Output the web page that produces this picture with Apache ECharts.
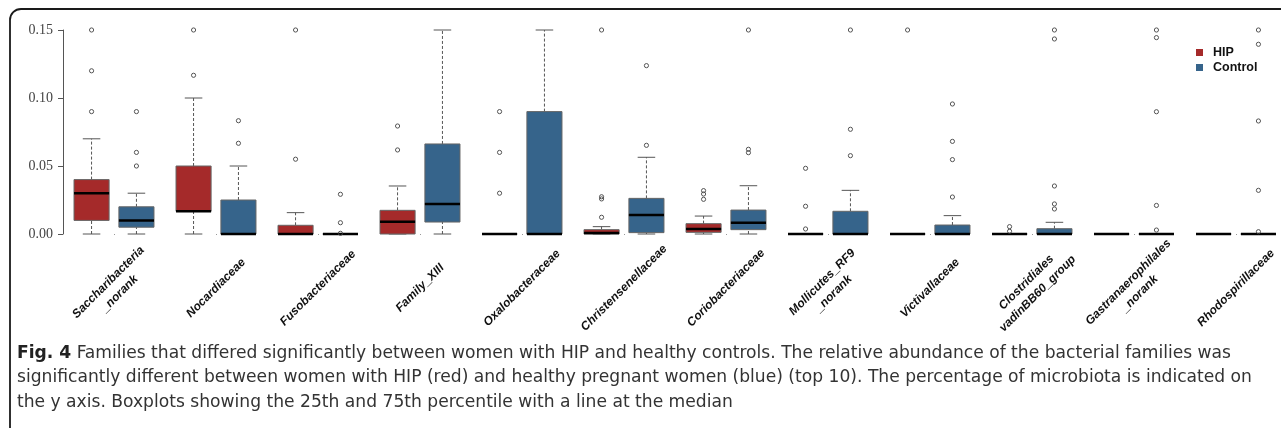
<!DOCTYPE html>
<html>
<head>
<meta charset="utf-8">
<script src="https://cdn.jsdelivr.net/npm/echarts@6/dist/echarts.min.js"></script>
<style>
  html, body { margin: 0; padding: 0; background: #fff; }
  #chart { width: 1281px; height: 428px; }
</style>
</head>
<body>
<div id="chart"></div>
<script>
// families on the x axis (line breaks as in the figure)
const categories = [
  "Saccharibacteria\n_norank", "Nocardiaceae", "Fusobacteriaceae", "Family_XIII",
  "Oxalobacteraceae", "Christensenellaceae", "Coriobacteriaceae", "Mollicutes_RF9\n_norank",
  "Victivallaceae", "Clostridiales\nvadinBB60_group", "Gastranaerophilales\n_norank", "Rhodospirillaceae"
];
const yTicks = [0, 0.05, 0.1, 0.15];

// [min, Q1, median, Q3, max] per family
const hipStats = [
  [0, 0.010, 0.030, 0.040, 0.070],
  [0, 0.0167, 0.0167, 0.050, 0.100],
  [0, 0, 0, 0.0064, 0.0157],
  [0, 0, 0.009, 0.0174, 0.0353],
  [0, 0, 0, 0, 0],
  [0, 0, 0.0008, 0.0032, 0.0054],
  [0, 0.0012, 0.0037, 0.0076, 0.0132],
  [0, 0, 0, 0, 0],
  [0, 0, 0, 0, 0],
  [0, 0, 0, 0, 0],
  [0, 0, 0, 0, 0],
  [0, 0, 0, 0, 0]
];
const controlStats = [
  [0, 0.005, 0.010, 0.020, 0.030],
  [0, 0, 0, 0.025, 0.050],
  [0, 0, 0, 0, 0],
  [0, 0.0088, 0.022, 0.0662, 0.15],
  [0, 0, 0, 0.090, 0.15],
  [0, 0.001, 0.014, 0.0262, 0.0564],
  [0, 0.0032, 0.0083, 0.0176, 0.0355],
  [0, 0, 0, 0.0167, 0.0321],
  [0, 0, 0, 0.0066, 0.0135],
  [0, 0, 0, 0.0039, 0.0086],
  [0, 0, 0, 0, 0],
  [0, 0, 0, 0, 0]
];

// [family index, value]
const hipOutliers = [
  [0, 0.15], [0, 0.12], [0, 0.09],
  [1, 0.15], [1, 0.1167],
  [2, 0.15], [2, 0.055],
  [3, 0.0794], [3, 0.0618],
  [4, 0.09], [4, 0.06], [4, 0.03],
  [5, 0.15], [5, 0.0274], [5, 0.0258], [5, 0.0123],
  [6, 0.0319], [6, 0.0294], [6, 0.0255],
  [7, 0.0483], [7, 0.0204], [7, 0.0037],
  [8, 0.15],
  [9, 0.0054], [9, 0.002]
];
const controlOutliers = [
  [0, 0.09], [0, 0.06], [0, 0.05],
  [1, 0.0833], [1, 0.0667],
  [2, 0.0292], [2, 0.0083], [2, 0.0005],
  [5, 0.1238], [5, 0.0652],
  [6, 0.15], [6, 0.0623], [6, 0.0598],
  [7, 0.15], [7, 0.077], [7, 0.0576],
  [8, 0.0956], [8, 0.0681], [8, 0.0547], [8, 0.0272],
  [9, 0.15], [9, 0.1434], [9, 0.0353], [9, 0.0221], [9, 0.0184],
  [10, 0.15], [10, 0.1444], [10, 0.0899], [10, 0.021], [10, 0.0029],
  [11, 0.15], [11, 0.1395], [11, 0.0831], [11, 0.0321], [11, 0.0017]
];

const captionLines = [
  ["Fig. 4", " Families that differed significantly between women with HIP and healthy controls. The relative abundance of the bacterial families was"],
  ["", "significantly different between women with HIP (red) and healthy pregnant women (blue) (top 10). The percentage of microbiota is indicated on"],
  ["", "the y axis. Boxplots showing the 25th and 75th percentile with a line at the median"]
];

const HIP_COLOR = "#a52a2a";
const CONTROL_COLOR = "#36648b";
const BOX_SHIFT = 0.22;   // fraction of band
const BOX_HALF = 0.172;

function boxRenderer(sign, color) {
  return function (params, api) {
    var cat = api.value(0);
    var band = api.size([1, 0])[0];
    var xc = api.coord([cat, 0])[0] + sign * band * BOX_SHIFT;
    var half = band * BOX_HALF;
    var y = function (i) { return api.coord([cat, api.value(i)])[1]; };
    var yMin = y(1), yQ1 = y(2), yMed = y(3), yQ3 = y(4), yMax = y(5);
    var whisker = { stroke: "#555", lineWidth: 1, lineDash: [3, 2] };
    var cap = { stroke: "#555", lineWidth: 1 };
    return {
      type: "group",
      children: [
        { type: "line", shape: { x1: xc, y1: yQ3, x2: xc, y2: yMax }, style: whisker },
        { type: "line", shape: { x1: xc, y1: yMin, x2: xc, y2: yQ1 }, style: whisker },
        { type: "line", shape: { x1: xc - half / 2, y1: yMax, x2: xc + half / 2, y2: yMax }, style: cap },
        { type: "line", shape: { x1: xc - half / 2, y1: yMin, x2: xc + half / 2, y2: yMin }, style: cap },
        { type: "rect", shape: { x: xc - half, y: yQ3, width: half * 2, height: yQ1 - yQ3 },
          style: { fill: color, stroke: "#666", lineWidth: 1 } },
        { type: "line", shape: { x1: xc - half, y1: yMed, x2: xc + half, y2: yMed },
          style: { stroke: "#000", lineWidth: 2.5 } }
      ]
    };
  };
}

function outlierRenderer(sign) {
  return function (params, api) {
    var cat = api.value(0);
    var band = api.size([1, 0])[0];
    var p = api.coord([cat, api.value(1)]);
    return {
      type: "circle",
      shape: { cx: p[0] + sign * band * BOX_SHIFT, cy: p[1], r: 2.1 },
      style: { fill: "none", stroke: "#444", lineWidth: 0.9 }
    };
  };
}

function boxData(stats) {
  return stats.map(function (s, i) { return [i].concat(s); });
}

// caption: measure and squeeze to the width of the printed lines
var CAP_FONT = '"Liberation Sans Narrow", "DejaVu Sans Condensed", "Open Sans", sans-serif';
var CAP_SIZE = 18;
var ctx = document.createElement("canvas").getContext("2d");
function measure(str, weight) {
  ctx.font = weight + " " + CAP_SIZE + "px " + CAP_FONT;
  return ctx.measureText(str).width;
}
var line1Width = measure(captionLines[0][0], "bold") + measure(captionLines[0][1], "normal");
var capScale = (1231 - 17) / line1Width;
var captionGraphics = captionLines.map(function (ln, i) {
  return {
    type: "text",
    x: 17,
    y: 353 + i * 24.5,
    scaleX: capScale,
    style: {
      text: (ln[0] ? "{b|" + ln[0] + "}" : "") + "{n|" + ln[1] + "}",
      verticalAlign: "middle",
      rich: {
        b: { fontFamily: CAP_FONT, fontSize: CAP_SIZE, fontWeight: "bold", fill: "#222" },
        n: { fontFamily: CAP_FONT, fontSize: CAP_SIZE, fill: "#333" }
      }
    }
  };
});

var chart = echarts.init(document.getElementById("chart"));
chart.setOption({
  backgroundColor: "#fff",
  animation: false,
  grid: { left: 63, top: 30, width: 1224, height: 204, outerBoundsMode: "none" },
  legend: {
    data: ["HIP", "Control"],
    orient: "vertical",
    left: 1196,
    top: 46,
    padding: 0,
    icon: "rect",
    itemWidth: 7,
    itemHeight: 7,
    itemGap: 2,
    textStyle: { fontFamily: "Liberation Sans, Arial, sans-serif", fontWeight: "bold", fontSize: 12.5, color: "#111", padding: [0, 0, 0, 5] }
  },
  xAxis: {
    type: "category",
    data: categories,
    offset: 8,
    axisLine: { show: false },
    axisTick: { show: true, alignWithLabel: true, length: 1, lineStyle: { color: "#999" } },
    axisLabel: {
      interval: 0,
      rotate: 45,
      align: "center",
      verticalAlign: "middle",
      margin: 46,
      hideOverlap: false,
      fontFamily: "Liberation Sans, Arial, sans-serif",
      fontStyle: "italic",
      fontWeight: "bold",
      fontSize: 12,
      lineHeight: 16,
      color: "#111"
    },
    splitLine: { show: false }
  },
  yAxis: {
    type: "value",
    min: yTicks[0],
    max: yTicks[yTicks.length - 1],
    interval: 0.05,
    axisLine: { show: true, lineStyle: { color: "#555", width: 1 } },
    axisTick: { show: true, length: 5, lineStyle: { color: "#555" } },
    axisLabel: {
      margin: 10,
      fontFamily: "Liberation Serif, Times New Roman, serif",
      fontSize: 14,
      color: "#444",
      formatter: function (v) { return v.toFixed(2); }
    },
    splitLine: { show: false }
  },
  graphic: [
    { type: "rect", shape: { x: 10, y: 9, width: 1320, height: 480, r: 11 },
      style: { fill: "none", stroke: "#1a1a1a", lineWidth: 1.8 }, silent: true }
  ].concat(captionGraphics),
  series: [
    { name: "HIP", type: "custom", renderItem: boxRenderer(-1, HIP_COLOR),
      itemStyle: { color: HIP_COLOR }, encode: { x: 0, y: [1, 2, 3, 4, 5] }, data: boxData(hipStats) },
    { name: "Control", type: "custom", renderItem: boxRenderer(1, CONTROL_COLOR),
      itemStyle: { color: CONTROL_COLOR }, encode: { x: 0, y: [1, 2, 3, 4, 5] }, data: boxData(controlStats) },
    { name: "HIP outliers", type: "custom", renderItem: outlierRenderer(-1),
      encode: { x: 0, y: 1 }, data: hipOutliers },
    { name: "Control outliers", type: "custom", renderItem: outlierRenderer(1),
      encode: { x: 0, y: 1 }, data: controlOutliers }
  ]
});
</script>
</body>
</html>
